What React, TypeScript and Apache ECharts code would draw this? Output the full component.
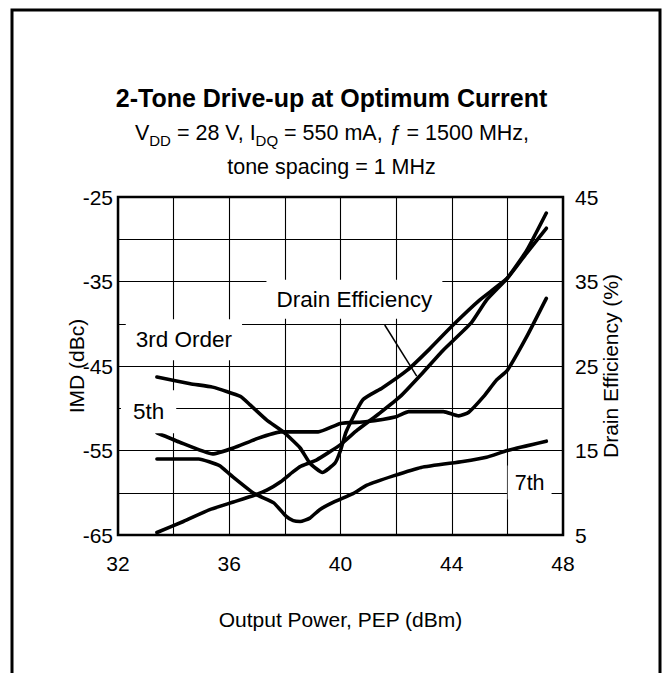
import React, { useEffect, useRef } from "react";
import * as echarts from "echarts";

// Tick labels
const xTicks = [32, 36, 40, 44, 48];
const imdTicks = [-25, -35, -45, -55, -65];
const effTicks = [45, 35, 25, 15, 5];

// 3rd order IMD (dBc)
const p3 = [33.4, 34.6, 35.4, 36.4, 36.75, 37.35, 37.95, 38.55, 38.9, 39.35, 39.8, 40.0, 40.2, 40.8, 41.5, 42.4, 43.2, 44.0, 45.0, 46.0, 46.7, 47.4];
const imd3 = [-46.3, -47.1, -47.5, -48.6, -49.6, -51.4, -52.8, -54.7, -56.5, -57.6, -56.5, -55.0, -52.8, -49.0, -47.6, -45.5, -43.0, -40.3, -37.2, -34.6, -31.6, -28.7];

// 5th order IMD (dBc)
const p5 = [33.4, 34.2, 35.4, 36.15, 37.0, 37.85, 39.2, 40.0, 40.9, 42.0, 42.45, 43.7, 44.25, 44.6, 45.15, 45.6, 46.0, 46.7, 47.4];
const imd5 = [-52.9, -54.0, -55.4, -54.7, -53.6, -52.8, -52.8, -51.8, -51.6, -51.0, -50.4, -50.4, -50.9, -50.5, -48.6, -46.7, -45.5, -41.5, -37.0];

// 7th order IMD (dBc)
const p7 = [33.4, 34.9, 35.65, 36.05, 36.9, 37.6, 38.05, 38.3, 38.55, 38.9, 39.25, 39.75, 40.45, 40.95, 41.9, 42.9, 44.4, 45.25, 46.0, 47.4];
const imd7 = [-56.0, -56.0, -56.8, -57.9, -60.1, -61.2, -62.8, -63.3, -63.4, -63.0, -62.0, -61.1, -60.1, -59.1, -58.0, -57.0, -56.3, -55.8, -55.0, -53.9];

// Drain efficiency (%)
const pEff = [33.4, 34.35, 35.3, 36.15, 36.9, 37.35, 37.85, 38.3, 38.55, 39.15, 40.0, 40.6, 41.4, 42.15, 42.9, 43.7, 44.7, 45.25, 46.0, 46.7, 47.4];
const eff = [5.3, 6.6, 8.0, 8.9, 9.7, 10.3, 11.3, 12.5, 13.1, 13.9, 15.7, 17.4, 19.4, 21.4, 24.0, 26.9, 30.1, 32.8, 35.4, 38.7, 43.1];

const FONT = "'Liberation Sans', Arial, Helvetica, sans-serif";

export default function App() {
  const ref = useRef<HTMLDivElement>(null);

  useEffect(() => {
    document.body.style.margin = "0";
    const chart = echarts.init(ref.current as HTMLDivElement, null, { renderer: "svg" });
    const pair = (xs: number[], ys: number[]) => xs.map((x, i) => [x, ys[i]]);
    const curve = (name: string, xs: number[], ys: number[], yAxisIndex = 0) => ({
      name,
      type: "line",
      yAxisIndex,
      data: pair(xs, ys),
      symbol: "none",
      smooth: 0.15,
      lineStyle: { color: "#000", width: 3.6, cap: "round", join: "round" },
      z: 5,
    });
    const tickText = { color: "#000", fontSize: 21, fontFamily: FONT };
    const nameText = { color: "#000", fontSize: 21, fontFamily: FONT };

    chart.setOption({
      animation: false,
      backgroundColor: "#fff",
      grid: {
        left: 118,
        top: 197,
        width: 445,
        height: 338,
        show: true,
        borderColor: "#000",
        borderWidth: 2.5,
        backgroundColor: "transparent",
        z: 3,
      },
      xAxis: {
        type: "value",
        min: 32,
        max: 48,
        interval: 2,
        axisLine: { show: false },
        axisTick: { show: false },
        splitLine: { show: true, lineStyle: { color: "#000", width: 1.1 } },
        axisLabel: {
          ...tickText,
          margin: 18,
          formatter: (v: number) => (xTicks.includes(v) ? String(v) : ""),
        },
        name: "Output Power, PEP (dBm)",
        nameLocation: "middle",
        nameGap: 74,
        nameMoveOverlap: false,
        nameTextStyle: nameText,
      },
      yAxis: [
        {
          type: "value",
          min: -65,
          max: -25,
          interval: 5,
          position: "left",
          axisLine: { show: false },
          axisTick: { show: false },
          splitLine: { show: true, lineStyle: { color: "#000", width: 1.1 } },
          axisLabel: {
            ...tickText,
            margin: 5,
            formatter: (v: number) => (imdTicks.includes(v) ? String(v) : ""),
          },
          name: "IMD (dBc)",
          nameLocation: "middle",
          nameRotate: 90,
          nameGap: 31,
          nameMoveOverlap: false,
          nameTextStyle: nameText,
        },
        {
          type: "value",
          min: 5,
          max: 45,
          interval: 5,
          position: "right",
          axisLine: { show: false },
          axisTick: { show: false },
          splitLine: { show: false },
          axisLabel: {
            ...tickText,
            margin: 12,
            formatter: (v: number) => (effTicks.includes(v) ? String(v) : ""),
          },
          name: "Drain Efficiency (%)",
          nameLocation: "middle",
          nameRotate: 90,
          nameGap: 37,
          nameMoveOverlap: false,
          nameTextStyle: nameText,
        },
      ],
      series: [
        curve("3rd Order", p3, imd3),
        curve("5th", p5, imd5),
        curve("7th", p7, imd7),
        curve("Drain Efficiency", pEff, eff, 1),
      ],
    });

    const px = (x: number, y: number) =>
      chart.convertToPixel({ xAxisIndex: 0, yAxisIndex: 0 }, [x, y]) as number[];

    const label = (text: string, at: number[], pad: number[], size = 22.5) => ({
      type: "text",
      x: at[0],
      y: at[1],
      z: 50,
      style: {
        text,
        fill: "#000",
        fontSize: size,
        fontFamily: FONT,
        align: "center",
        verticalAlign: "middle",
        backgroundColor: "#fff",
        padding: pad,
      },
    });

    const l3 = px(34.37, -41.9);
    const l5 = px(33.1, -50.4);
    const l7 = px(46.8, -58.8);
    const lE = px(40.5, -37.1);
    const a0 = px(41.59, -40.15);
    const a1 = px(42.74, -46.2);

    chart.setOption({
      graphic: [
        {
          type: "rect",
          z: 100,
          shape: { x: 12, y: 10, width: 648, height: 700 },
          style: { fill: "none", stroke: "#000", lineWidth: 3 },
        },
        {
          type: "text",
          x: 331.5,
          y: 98,
          style: {
            text: "2-Tone Drive-up at Optimum Current",
            fill: "#000",
            fontSize: 25,
            fontWeight: "bold",
            fontFamily: FONT,
            align: "center",
            verticalAlign: "middle",
          },
        },
        {
          type: "text",
          x: 332,
          y: 133,
          style: {
            text: "V{s|DD} = 28 V, I{s|DQ} = 550 mA, {i|ƒ} = 1500 MHz,",
            fill: "#000",
            fontSize: 21.5,
            lineHeight: 30,
            fontFamily: FONT,
            align: "center",
            verticalAlign: "middle",
            rich: {
              s: { fontSize: 15, lineHeight: 17, verticalAlign: "bottom", fontFamily: FONT, fill: "#000" },
              i: { fontStyle: "italic", fontSize: 21.5, fontFamily: FONT, fill: "#000" },
            },
          },
        },
        {
          type: "text",
          x: 331.5,
          y: 167,
          style: {
            text: "tone spacing = 1 MHz",
            fill: "#000",
            fontSize: 21.5,
            fontFamily: FONT,
            align: "center",
            verticalAlign: "middle",
          },
        },
        label("3rd Order", l3, [9, 10, 9, 10]),
        label("5th", l5, [10, 12, 10, 12]),
        label("7th", l7, [6, 7, 6, 7], 21.5),
        label("Drain Efficiency", lE, [8, 10, 8, 10]),
        {
          type: "line",
          z: 51,
          shape: { x1: a0[0], y1: a0[1], x2: a1[0], y2: a1[1] },
          style: { stroke: "#000", lineWidth: 1.5 },
        },
      ],
    });

    return () => chart.dispose();
  }, []);

  return (
    <div
      ref={ref}
      style={{ position: "absolute", left: 0, top: 0, width: 663, height: 673, background: "#fff" }}
    />
  );
}
